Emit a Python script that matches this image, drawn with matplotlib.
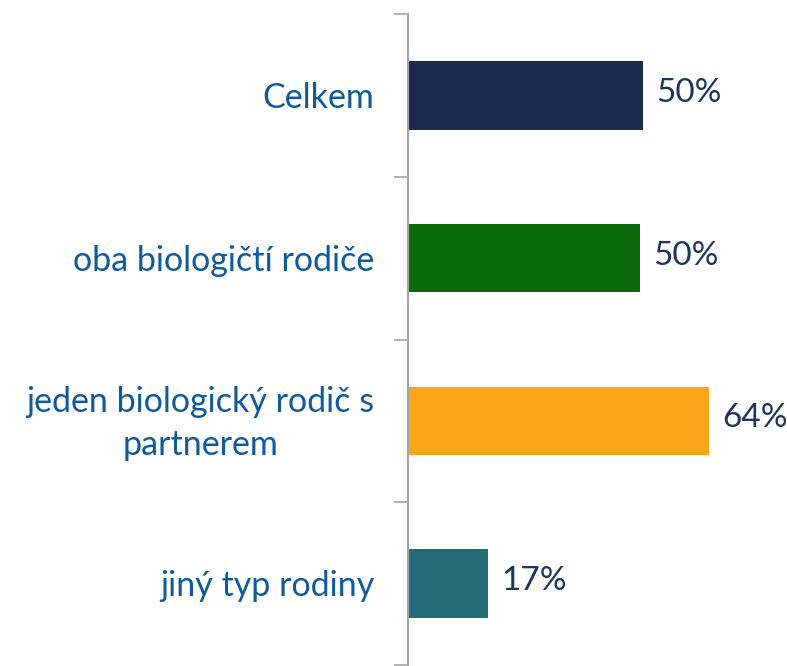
import numpy as np
import matplotlib.pyplot as plt

# data
categories = ["Celkem", "oba biologičtí rodiče", "jeden biologický rodič s\npartnerem", "jiný typ rodiny"]
values = [50, 49.4, 64, 17]
labels = ["50%", "50%", "64%", "17%"]
colors = ["#1B2B50", "#0A6B0A", "#FFA51A", "#266B78"]

plt.rcParams['font.family'] = ['Lato', 'DejaVu Sans']

fig = plt.figure(figsize=(7.87, 6.66), dpi=100)
ax = fig.add_axes([408 / 787, 0.0015, 1 - 408 / 787, 1 - 0.0015 - 14 / 666])

y = np.arange(len(categories))
ax.barh(y, values, height=0.42, color=colors)
ax.set_ylim(len(categories) - 0.5, -0.5)
ax.set_xlim(0, 379 / 4.7)

# value labels
for yi, v, lab in zip(y, values, labels):
    ax.text(v + 2.8, yi - 0.015, lab, va="center", ha="left", fontsize=24, color="#1F3460")

# category labels
for yi, cat in zip(y, categories):
    ax.text(-7.2, yi + 0.015, cat, va="center", ha="right", multialignment="center",
            fontsize=24.5, color="#0E5A9A", linespacing=1.4)

ax.set_yticks(np.arange(len(categories) + 1) - 0.5)
ax.set_yticklabels([])
ax.tick_params(axis="y", length=10, width=1.2, color="#A6A6A6")
ax.set_xticks([])
for s in ["top", "right", "bottom"]:
    ax.spines[s].set_visible(False)
ax.spines["left"].set_color("#A6A6A6")
ax.spines["left"].set_linewidth(1.5)

fig.savefig("out.png", dpi=100)
